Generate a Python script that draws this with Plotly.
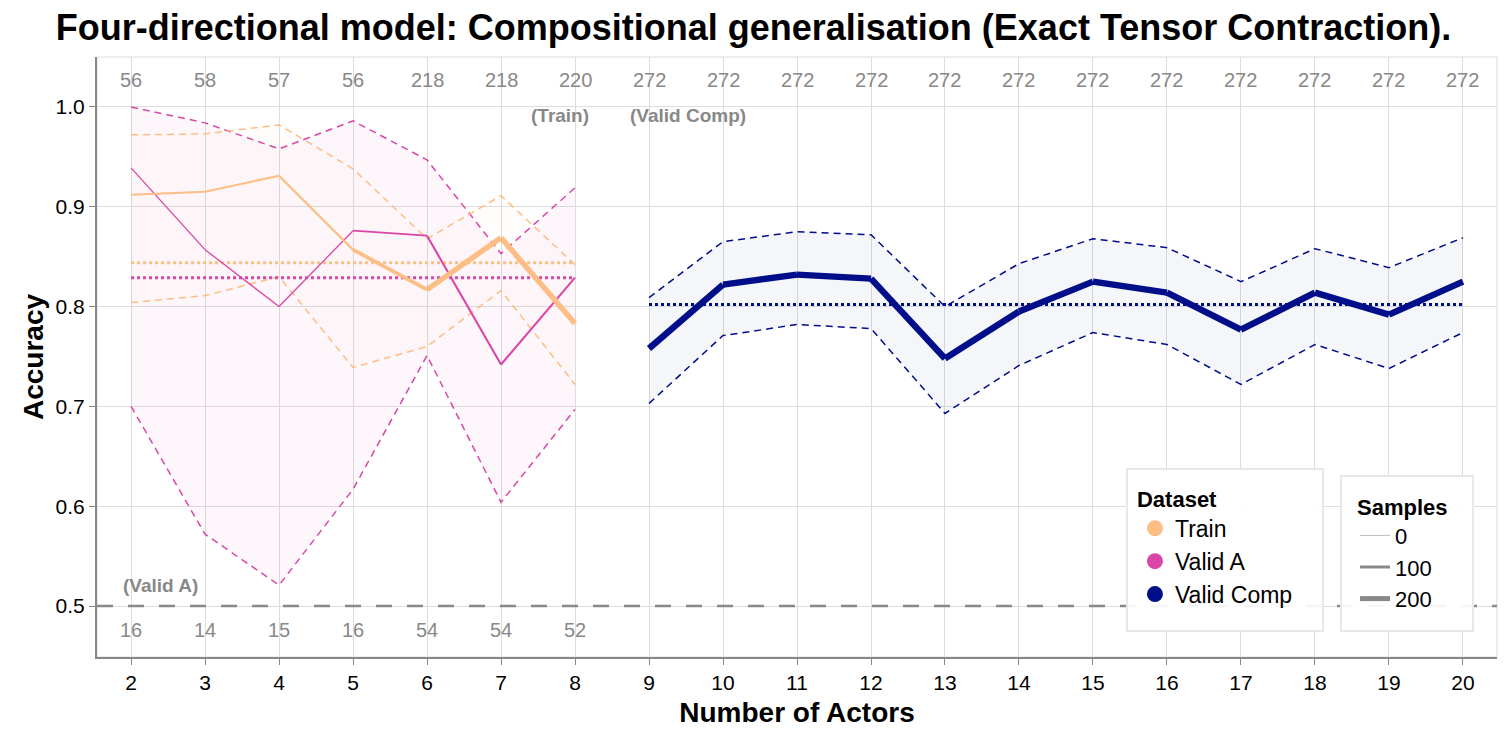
import plotly.graph_objects as go

# --- data ---
TRAIN_X = [2, 3, 4, 5, 6, 7, 8]
TRAIN_MEAN = [0.912, 0.915, 0.931, 0.857, 0.817, 0.869, 0.783]
TRAIN_HI = [0.972, 0.973, 0.982, 0.938, 0.868, 0.911, 0.842]
TRAIN_LO = [0.804, 0.811, 0.830, 0.739, 0.760, 0.816, 0.722]
TRAIN_N = [56, 58, 57, 56, 218, 218, 220]
TRAIN_AVG = 0.844

VALA_X = [2, 3, 4, 5, 6, 7, 8]
VALA_MEAN = [0.939, 0.857, 0.800, 0.876, 0.871, 0.742, 0.829]
VALA_HI = [1.000, 0.984, 0.958, 0.986, 0.947, 0.853, 0.919]
VALA_LO = [0.700, 0.572, 0.521, 0.617, 0.751, 0.604, 0.697]
VALA_N = [16, 14, 15, 16, 54, 54, 52]
VALA_AVG = 0.829

COMP_X = [9, 10, 11, 12, 13, 14, 15, 16, 17, 18, 19, 20]
COMP_MEAN = [0.758, 0.822, 0.832, 0.828, 0.748, 0.795, 0.825, 0.814, 0.777, 0.814, 0.792, 0.825]
COMP_HI = [0.809, 0.865, 0.875, 0.872, 0.800, 0.843, 0.868, 0.859, 0.825, 0.858, 0.839, 0.869]
COMP_LO = [0.703, 0.771, 0.782, 0.778, 0.693, 0.741, 0.774, 0.762, 0.722, 0.762, 0.738, 0.774]
COMP_N = [272] * 12
COMP_AVG = 0.802

CHANCE = 0.5
SAMPLE_LEGEND = [0, 100, 200]

COLORS = {"Train": "#fdbe85", "Valid A": "#d946a8", "Valid Comp": "#000e8a"}
FILLS = {"Train": "rgba(253,190,133,0.035)", "Valid A": "rgba(217,70,168,0.045)",
         "Valid Comp": "rgba(0,14,138,0.04)"}
GREY = "#888888"
FONT = "Liberation Sans, Arial, Helvetica, sans-serif"


def width_for(n):
    return 1 + n / 50.0


series = [
    ("Valid A", VALA_X, VALA_MEAN, VALA_HI, VALA_LO, VALA_N, VALA_AVG),
    ("Train", TRAIN_X, TRAIN_MEAN, TRAIN_HI, TRAIN_LO, TRAIN_N, TRAIN_AVG),
    ("Valid Comp", COMP_X, COMP_MEAN, COMP_HI, COMP_LO, COMP_N, COMP_AVG),
]

fig = go.Figure()

# confidence bands (upper dashed, lower dashed + fill between)
for name, xs, mean, hi, lo, n, avg in series:
    fig.add_trace(go.Scatter(
        x=xs, y=hi, mode="lines", showlegend=False, hoverinfo="skip",
        line={"color": COLORS[name], "width": 1.5, "dash": "7px,5px"},
    ))
    fig.add_trace(go.Scatter(
        x=xs, y=lo, mode="lines", showlegend=False, hoverinfo="skip",
        fill="tonexty", fillcolor=FILLS[name],
        line={"color": COLORS[name], "width": 1.5, "dash": "7px,5px"},
    ))

# dotted averages
for name, xs, mean, hi, lo, n, avg in series:
    fig.add_trace(go.Scatter(
        x=[xs[0], xs[-1]], y=[avg, avg], mode="lines", showlegend=False,
        hoverinfo="skip",
        line={"color": COLORS[name], "width": 3, "dash": "3px,3px"},
    ))

# mean lines, width scaled by sample count per segment
for name, xs, mean, hi, lo, n, avg in series:
    for i in range(len(xs) - 1):
        w = width_for((n[i] + n[i + 1]) / 2)
        fig.add_trace(go.Scatter(
            x=xs[i:i + 2], y=mean[i:i + 2], mode="lines", showlegend=False,
            line={"color": COLORS[name], "width": w},
            hovertemplate=f"{name}<br>%{{x}} actors: %{{y:.3f}}<extra></extra>",
        ))

# legend: Dataset
for name in ["Train", "Valid A", "Valid Comp"]:
    fig.add_trace(go.Scatter(
        x=[None], y=[None], mode="markers", name=name, legend="legend",
        legendgroup=name,
        marker={"color": COLORS[name], "size": 16, "symbol": "circle"},
    ))
# legend: Samples
for s in SAMPLE_LEGEND:
    fig.add_trace(go.Scatter(
        x=[None], y=[None], mode="lines", name=str(s), legend="legend2",
        legendgroup=f"s{s}",
        line={"color": "#bbbbbb" if s == 0 else GREY, "width": width_for(s)},
    ))

annotations = []
# sample counts: Train and Valid Comp on top, Valid A at the bottom
for xs, ns in [(TRAIN_X, TRAIN_N), (COMP_X, COMP_N)]:
    for x, n in zip(xs, ns):
        annotations.append(dict(x=x, y=1.027, text=str(n), showarrow=False,
                                font={"size": 20, "color": GREY}))
for x, n in zip(VALA_X, VALA_N):
    annotations.append(dict(x=x, y=0.476, text=str(n), showarrow=False,
                            font={"size": 20, "color": GREY}))
annotations += [
    dict(x=8.22, y=0.991, text="<b>(Train)</b>", showarrow=False, xanchor="right",
         font={"size": 19, "color": GREY}),
    dict(x=8.72, y=0.991, text="<b>(Valid Comp)</b>", showarrow=False, xanchor="left",
         font={"size": 19, "color": GREY}),
    dict(x=1.865, y=0.521, text="<b>(Valid A)</b>", showarrow=False, xanchor="left",
         font={"size": 19, "color": GREY}),
]

shapes = [
    dict(type="line", xref="paper", x0=0, x1=1, yref="y", y0=CHANCE, y1=CHANCE,
         line={"color": GREY, "width": 2.5, "dash": "16px,15px"}, layer="above"),
    dict(type="rect", xref="paper", yref="paper", x0=0, x1=1, y0=0, y1=1,
         line={"color": "#dddddd", "width": 1}, layer="below"),
    # legend frames (drawn as shapes so the padding matches)
    dict(type="rect", xref="paper", yref="paper", x0=0.7357, x1=0.8757,
         y0=0.0433, y1=0.3133, line={"color": "#e8e8e8", "width": 2},
         fillcolor="rgba(255,255,255,0.92)", layer="above"),
    dict(type="rect", xref="paper", yref="paper", x0=0.8886, x1=0.9829,
         y0=0.0433, y1=0.3017, line={"color": "#e8e8e8", "width": 2},
         fillcolor="rgba(255,255,255,0.92)", layer="above"),
]

# page body has an 8px margin, so the figure is sized to fit the window
fig.update_layout(
    width=1500, height=732,
    margin={"l": 89, "r": 11, "t": 49, "b": 83},
    paper_bgcolor="white", plot_bgcolor="white",
    font={"family": FONT, "size": 21, "color": "#000"},
    title={"text": "<b>Four-directional model: Compositional generalisation (Exact Tensor Contraction).</b>",
           "x": 0.497, "xanchor": "center", "y": 0.973, "yanchor": "middle",
           "font": {"size": 36, "family": FONT, "color": "#000"}},
    annotations=annotations,
    shapes=shapes,
    legend={"title": {"text": "<b>Dataset</b>", "font": {"size": 22}},
            "x": 0.7414, "y": 0.298, "xanchor": "left", "yanchor": "top",
            "bgcolor": "rgba(0,0,0,0)", "borderwidth": 0,
            "font": {"size": 23}, "tracegroupgap": 0, "itemwidth": 30},
    legend2={"title": {"text": "<b>Samples</b>", "font": {"size": 22}},
             "x": 0.8986, "y": 0.285, "xanchor": "left", "yanchor": "top",
             "bgcolor": "rgba(0,0,0,0)", "borderwidth": 0,
             "font": {"size": 22}, "tracegroupgap": 0, "itemwidth": 30},
)
fig.update_xaxes(
    range=[1.54, 20.46], tickvals=list(range(2, 21)),
    title={"text": "<b>Number of Actors</b>", "font": {"size": 28}, "standoff": 9},
    showgrid=True, gridcolor="#dddddd", gridwidth=1, zeroline=False,
    showline=True, linecolor=GREY, linewidth=2, automargin=False,
    ticks="outside", ticklen=6, tickcolor=GREY, tickfont={"size": 21},
)
fig.update_yaxes(
    range=[0.449, 1.05], tickvals=[0.5, 0.6, 0.7, 0.8, 0.9, 1.0],
    tickformat=".1f",
    title={"text": "<b>Accuracy</b>", "font": {"size": 28}, "standoff": 4},
    showgrid=True, gridcolor="#dddddd", gridwidth=1, zeroline=False,
    showline=True, linecolor=GREY, linewidth=2, automargin=False,
    ticks="outside", ticklen=6, tickcolor=GREY, tickfont={"size": 21},
)

fig.write_html("out.html")
